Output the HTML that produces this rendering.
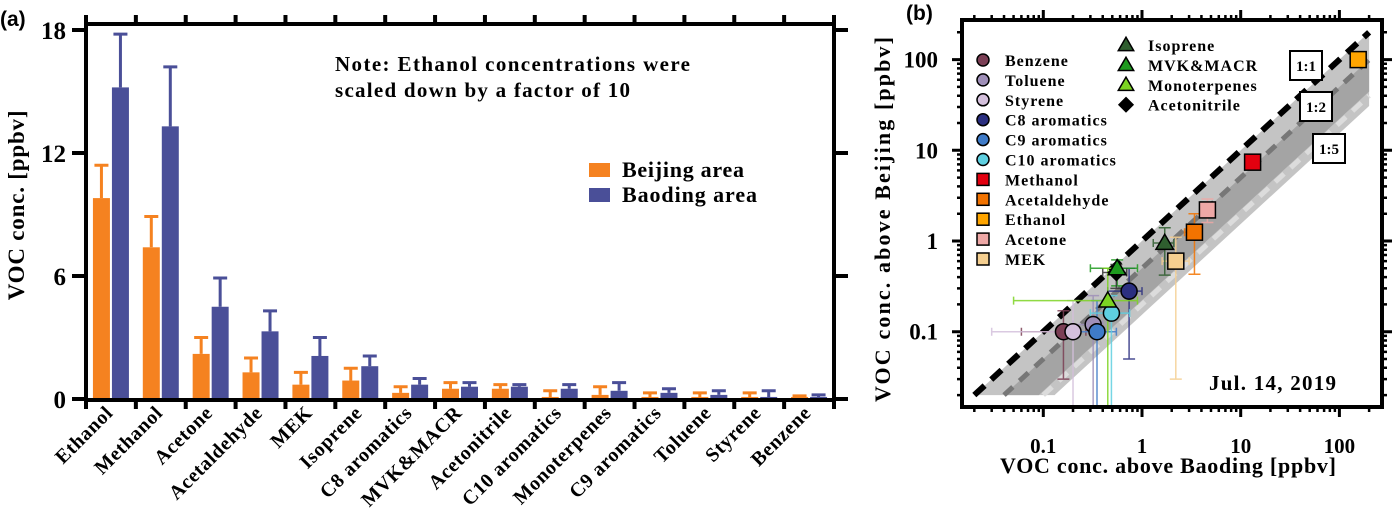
<!DOCTYPE html>
<html><head><meta charset="utf-8">
<style>
html,body{margin:0;padding:0;background:#fff;}
svg{display:block;font-family:"Liberation Serif",serif;font-weight:bold;}
</style></head>
<body>
<svg id="chart" width="1393" height="526" viewBox="0 0 1393 526" xmlns="http://www.w3.org/2000/svg">
  <g id="pa"></g>
  <g id="pb"></g>
</svg>
<script>
// ---------- Panel (a) data ----------
const categories = ["Ethanol","Methanol","Acetone","Acetaldehyde","MEK","Isoprene","C8 aromatics","MVK&MACR","Acetonitrile","C10 aromatics","Monoterpenes","C9 aromatics","Toluene","Styrene","Benzene"];
const beijingVals = [9.8,7.4,2.2,1.3,0.7,0.9,0.3,0.5,0.5,0.1,0.2,0.1,0.1,0.1,0.1];
const beijingErr  = [11.4,8.9,3.0,2.0,1.3,1.5,0.6,0.8,0.7,0.4,0.6,0.3,0.3,0.3,0.15];
const baodingVals = [15.2,13.3,4.5,3.3,2.1,1.6,0.7,0.6,0.6,0.5,0.4,0.3,0.2,0.1,0.1];
const baodingErr  = [17.8,16.2,5.9,4.3,3.0,2.1,1.0,0.8,0.7,0.7,0.8,0.5,0.4,0.4,0.2];
const yTicksA = [0,6,12,18];

// ---------- Panel (b) data ----------
const species   = ["Benzene","Toluene","Styrene","C8 aromatics","C9 aromatics","C10 aromatics","Methanol","Acetaldehyde","Ethanol","Acetone","MEK","Isoprene","MVK&MACR","Monoterpenes","Acetonitrile"];
const baodingX  = [0.16,0.32,0.2,0.74,0.35,0.49,13.2,3.4,155,4.6,2.2,1.7,0.56,0.45,0.55];
const beijingY  = [0.1,0.12,0.1,0.28,0.1,0.16,7.4,1.25,100,2.2,0.6,0.95,0.5,0.22,0.45];
const xErrLo    = [0.06,0.2,0.03,0.45,0.2,0.3,11.5,2.7,155,4.0,1.6,1.3,0.3,0.05,0.4];
const xErrHi    = [0.27,0.4,0.35,1.0,0.55,0.75,15,3.9,155,5.2,3.0,2.1,0.9,0.9,0.7];
const yErrLo    = [0.03,0.015,0.015,0.05,0.015,0.015,6.5,0.43,100,1.6,0.03,0.42,0.32,0.015,0.3];
const yErrHi    = [0.17,0.25,0.22,0.5,0.22,0.25,8.3,2.0,100,2.9,1.1,1.4,0.62,0.5,0.55];
const markers   = ["circle","circle","circle","circle","circle","circle","square","square","square","square","square","tri","tri","tri","diamond"];
const colors    = ["#7b3f55","#9f8fb8","#d4c0dc","#2b2f80","#3f7bc8","#5ecfe0","#e3000f","#f27300","#ffa500","#eea8a6","#f5cf90","#2f5e2f","#1e9a1e","#7cd422","#000"];
const xTicksB = [0.1,1,10,100];
const yTicksB = [0.1,1,10,100];
const ratioLines = [1,2,5];

const NS="http://www.w3.org/2000/svg";
function mk(parent,tag,attrs,text){const e=document.createElementNS(NS,tag);for(const k in attrs)e.setAttribute(k,attrs[k]);if(text!==undefined)e.textContent=text;parent.appendChild(e);return e;}

// ---------- Panel A ----------
const pa=document.getElementById('pa');
const AL=86,AR=834,AT=24,AB=400;
const yA=v=>399-v*(369/18);
const band=(AR-AL)/categories.length;
const cx=i=>AL+band*(i+0.5);
let t=mk(pa,'text',{x:0,y:26,'font-family':'Liberation Sans, sans-serif','font-size':21},'(a)');

categories.forEach((c,i)=>{
  const g=mk(pa,'g',{});
  
  
  const x0=cx(i)-18,x1=cx(i)+1;
  [[x0,beijingVals[i],beijingErr[i],'#f58220'],[x1,baodingVals[i],baodingErr[i],'#4a4f98']].forEach(([x,v,e,col],k)=>{
    const w=17;
    const r=mk(g,'rect',{x:x,y:yA(v),width:w,height:Math.max(0.5,yA(0)-yA(v)),fill:col});
    
    const m=x+w/2;
    const l=mk(g,'path',{d:`M${m},${yA(v)}V${yA(e)}M${m-7},${yA(e)}H${m+7}`,stroke:col,'stroke-width':3,fill:'none'});
    
  });
  const lab=mk(pa,'text',{x:cx(i)+3,y:414,'text-anchor':'end','font-size':20,'letter-spacing':0.6,transform:`rotate(-45 ${cx(i)+3} 414)`},c);
  
});
fr=mk(pa,'rect',{x:AL,y:AT,width:AR-AL,height:AB-AT,fill:'none',stroke:'#000','stroke-width':4});

for(let i=0;i<=categories.length;i++){
  const x=AL+band*i;
  mk(pa,'path',{d:`M${x},${AT-9}V${AT}M${x},${AB}V${AB+9}`,stroke:'#000','stroke-width':4});
}
yTicksA.forEach(v=>{
  mk(pa,'path',{d:`M${AL-14},${yA(v)}H${AL}M${AR},${yA(v)}H${AR+14}`,stroke:'#000','stroke-width':4});
  const tl=mk(pa,'text',{x:AL-20,y:yA(v)+9,'text-anchor':'end','font-size':25},String(v));
  
});
t=mk(pa,'text',{x:0,y:0,'text-anchor':'middle','font-size':23,'letter-spacing':0.8,transform:'translate(24,205) rotate(-90)'},'VOC conc. [ppbv]');

t=mk(pa,'text',{x:335,y:71,'font-size':21,textLength:355,lengthAdjust:'spacing'},'Note: Ethanol concentrations were');

t=mk(pa,'text',{x:335,y:97,'font-size':21,textLength:295,lengthAdjust:'spacing'},'scaled down by a factor of 10');

[['Beijing area','#f58220',163,122],['Baoding area','#4a4f98',188,135]].forEach(([n,c,y,L])=>{
  const g=mk(pa,'g',{});
  
  mk(g,'rect',{x:589,y:y,width:21,height:14,fill:c});
  mk(g,'text',{x:622,y:y+14,'font-size':22,textLength:L,lengthAdjust:'spacing'},n);
});

// ---------- Panel B ----------
const pb=document.getElementById('pb');
const BL=962,BR=1382,BT=20,BB=407;
const xB=v=>1142+98.7*Math.log10(v);
const yB=v=>241-90.7*Math.log10(v);
t=mk(pb,'text',{x:906,y:20,'font-family':'Liberation Sans, sans-serif','font-size':21},'(b)');

mk(pb,'clipPath',{id:'clipb'});
mk(document.getElementById('clipb'),'rect',{x:BL,y:BT,width:BR-BL,height:BB-BT});
const gp=mk(pb,'g',{'clip-path':'url(#clipb)'});
(function(){
  const p=mk(gp,'polygon',{points:`${xB(0.02)},${yB(0.02)} ${xB(200)},${yB(200)} ${xB(200)},${yB(200/6.5)} ${xB(0.02*6.5)},${yB(0.02)}`,fill:'#c4c4c4'});
  
  const q=mk(gp,'polygon',{points:`${xB(0.04)},${yB(0.02)} ${xB(200)},${yB(100)} ${xB(200)},${yB(200/4.5)} ${xB(0.02*4.5)},${yB(0.02)}`,fill:'#a4a4a4'});
  
})();
const lineStyles={1:['#000',6,'14,9'],2:['#777',5,'12,9'],5:['#dcdcdc',5,'12,9']};
ratioLines.forEach(r=>{
  const s=lineStyles[r];
  const l=mk(gp,'line',{x1:xB(0.02*r),y1:yB(0.02),x2:xB(200),y2:yB(200/r),stroke:s[0],'stroke-width':s[1],'stroke-dasharray':s[2]});
  
});
species.forEach((s,i)=>{
  const c=colors[i]==='#000'?'#333':colors[i];
  const x=xB(baodingX[i]),y=yB(beijingY[i]);
  const e=mk(gp,'path',{d:`M${xB(xErrLo[i])},${y}H${xB(xErrHi[i])}M${xB(xErrLo[i])},${y-4}v8M${xB(xErrHi[i])},${y-4}v8M${x},${yB(yErrLo[i])}V${yB(yErrHi[i])}M${x-6},${yB(yErrLo[i])}h12M${x-6},${yB(yErrHi[i])}h12`,stroke:c,'stroke-width':1.5,fill:'none',opacity:0.85});
  
});
function marker(parent,type,x,y,col,sz){
  if(type==='circle')return mk(parent,'circle',{cx:x,cy:y,r:sz,fill:col,stroke:'#000','stroke-width':1.5});
  if(type==='square')return mk(parent,'rect',{x:x-sz,y:y-sz,width:2*sz,height:2*sz,fill:col,stroke:'#000','stroke-width':1.5});
  if(type==='tri')return mk(parent,'polygon',{points:`${x},${y-sz*1.1} ${x+sz*1.1},${y+sz*0.8} ${x-sz*1.1},${y+sz*0.8}`,fill:col,stroke:'#000','stroke-width':1.5});
  return mk(parent,'polygon',{points:`${x},${y-sz} ${x+sz},${y} ${x},${y+sz} ${x-sz},${y}`,fill:col,stroke:'#000','stroke-width':1.5});
}
const order=[14,0,2,1,4,5,3,13,12,11,10,7,9,6,8];
order.forEach(i=>{
  const m=marker(gp,markers[i],xB(baodingX[i]),yB(beijingY[i]),colors[i],8);
  
  
});
fr=mk(pb,'rect',{x:BL,y:BT,width:BR-BL,height:BB-BT,fill:'none',stroke:'#000','stroke-width':4});

for(let d=-2;d<=2;d++){for(let m=1;m<10;m++){
  const v=m*Math.pow(10,d);const L=m===1?10:5;
  const x=xB(v);if(x>BL+4&&x<BR-4) mk(pb,'path',{d:`M${x},${BT}V${BT-L}M${x},${BB}V${BB+L}`,stroke:'#000','stroke-width':m===1?3:2.5});
  const y=yB(v);if(y>BT+4&&y<BB-4) mk(pb,'path',{d:`M${BL},${y}H${BL-L}M${BR},${y}H${BR+L}`,stroke:'#000','stroke-width':m===1?3:2.5});
}}
xTicksB.forEach(v=>{
  const tl=mk(pb,'text',{x:xB(v),y:453,'text-anchor':'middle','font-size':21},String(v));
  
});
yTicksB.forEach(v=>{
  const tl=mk(pb,'text',{x:938,y:yB(v)+8,'text-anchor':'end','font-size':23},String(v));
  
});
t=mk(pb,'text',{x:1000,y:473,'font-size':22,textLength:336,lengthAdjust:'spacing'},'VOC conc. above Baoding [ppbv]');

t=mk(pb,'text',{x:0,y:0,'font-size':22,textLength:365,lengthAdjust:'spacing',transform:'translate(890,402) rotate(-90)'},'VOC conc. above Beijing [ppbv]');

[['1:1',1290,51],['1:2',1300,92],['1:5',1313,134]].forEach(([s,x,y])=>{
  const g=mk(pb,'g',{});
  
  mk(g,'rect',{x:x,y:y,width:32,height:29,fill:'#fff',stroke:'#000','stroke-width':2});
  mk(g,'text',{x:x+16,y:y+20,'text-anchor':'middle','font-size':15},s);
});
t=mk(pb,'text',{x:1209,y:390,'font-size':21,textLength:127,lengthAdjust:'spacing'},'Jul. 14, 2019');

const legCol1=[0,1,2,3,4,5,6,7,8,9,10], legCol2=[11,12,13,14];
legCol1.forEach((i,k)=>{
  const g=mk(pb,'g',{});
  
  marker(g,markers[i],983,60+k*19.9,colors[i],6);
  mk(g,'text',{x:1005,y:60+k*19.9+6,'font-size':16,'letter-spacing':1},species[i]);
});
legCol2.forEach((i,k)=>{
  const g=mk(pb,'g',{});
  
  marker(g,markers[i],1126,45+k*19.9,colors[i],7);
  mk(g,'text',{x:1148,y:45+k*19.9+6,'font-size':16,'letter-spacing':1},species[i]);
});
</script>
</body></html>
